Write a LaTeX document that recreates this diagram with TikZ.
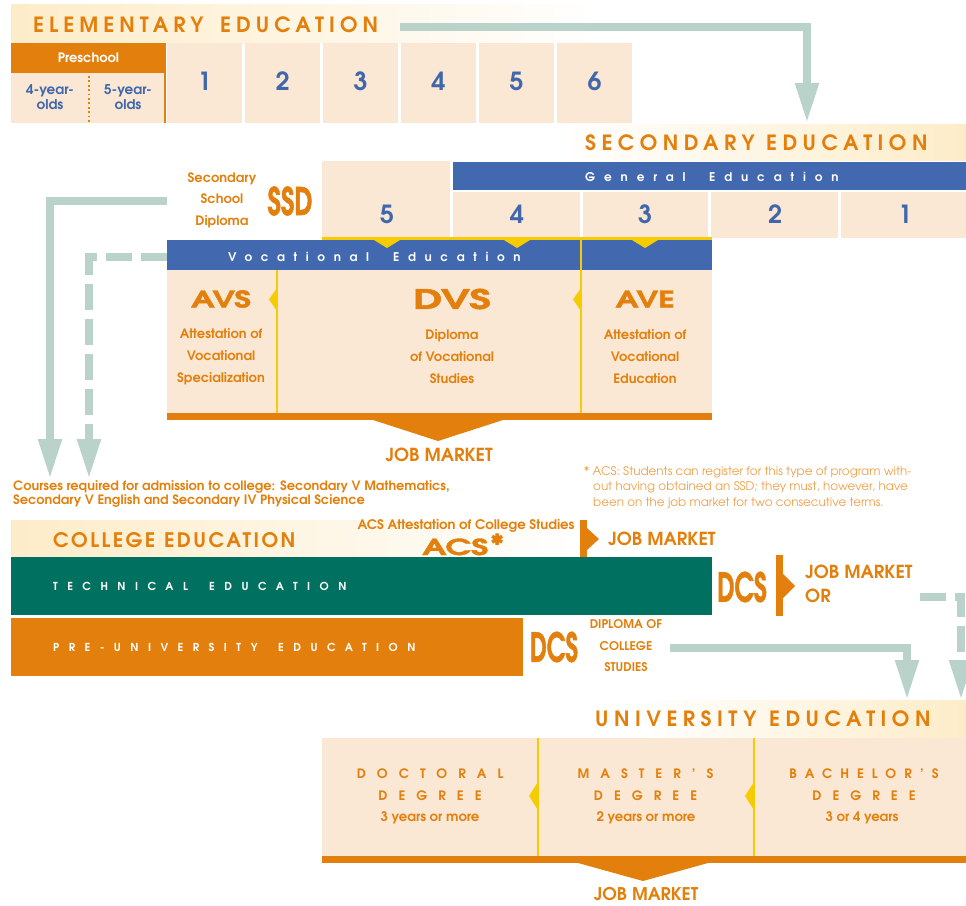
\documentclass[tikz,border=0pt]{standalone}
\usepackage{fontspec}
\usepackage{graphicx}
\setmainfont{texgyreadventor}[Extension=.otf,UprightFont=*-regular,BoldFont=*-bold,ItalicFont=*-italic,BoldItalicFont=*-bolditalic]
\newfontfamily\heavyf{texgyreadventor}[Extension=.otf,UprightFont=*-bold,FakeBold=1.6]
\usetikzlibrary{arrows.meta,calc}
\definecolor{org}{RGB}{227,128,13}
\definecolor{peach}{RGB}{250,231,212}
\definecolor{bandblue}{RGB}{66,105,175}
\definecolor{nblue}{RGB}{64,102,172}
\definecolor{tgreen}{RGB}{0,113,96}
\definecolor{agrey}{RGB}{186,211,202}
\definecolor{yel}{RGB}{246,203,0}
\definecolor{lyel}{RGB}{253,236,200}
\definecolor{lorg}{RGB}{240,160,75}
\newcommand\fs[2]{\fontsize{#1}{#2}\selectfont}
\newcommand\trk[1]{\addfontfeature{LetterSpace=#1}}
\begin{document}
\begin{tikzpicture}[x=1pt,y=-1pt,
 box/.style={anchor=north west,inner sep=0pt,outer sep=0pt,draw=none},
 conn/.style={draw=agrey,line width=8pt,-{Triangle[width=22pt,length=40pt]}},
 dconn/.style={conn,dash pattern=on 26pt off 9pt},
 hdr/.style={inner sep=0pt,anchor=west,text=org,font=\fs{21}{21}\bfseries\trk{24}},
 num/.style={text=nblue,font=\fs{25}{25}\bfseries,inner sep=0pt},
 otxt/.style={text=org,align=center,font=\fs{13}{21.5}\bfseries,inner sep=0pt},
 bandtxt/.style={text=white,inner sep=0pt,anchor=west,font=\fs{12}{12}\bfseries\trk{74}},
 captxt/.style={text=white,inner sep=0pt,anchor=west,font=\fs{11}{11}\bfseries\trk{86}},
 job/.style={text=org,font=\fs{18}{18}\bfseries,inner sep=0pt},
 degtxt/.style={text=org,align=center,font=\fs{13}{22}\bfseries\trk{85},inner sep=0pt},
 yrtxt/.style={text=org,font=\fs{13.2}{13}\bfseries,inner sep=0pt},
 heavy/.style={text=org,font=\fs{23}{23}\heavyf,inner sep=0pt},
 cond/.style={text=org,font=\fs{40}{40}\heavyf,inner sep=0pt},
]
\useasboundingbox (0,0) rectangle (966,905);

% ---------------- Elementary
\node[box,minimum width=589,minimum height=39,left color=lyel,right color=white] (elband) at (11,4) {};
\node[hdr] (elem1) at (33,25) {ELEMENTARY};
\node[hdr] (elem2) at (220,25) {EDUCATION};
\node[box,fill=org,minimum width=155,minimum height=30,text=white,font=\fs{13}{13}\bfseries] (pre) at (11,43) {Preschool};
\node[box,fill=peach,minimum width=155,minimum height=50] (preb) at (11,73) {};
\draw[org,line width=2pt] (165,43) -- (165,123);
\draw[org,line width=1.8pt,dash pattern=on 1.8pt off 2.6pt] (89,76) -- (89,123);
\node[text=nblue,align=center,font=\fs{13.5}{14.5}\bfseries,inner sep=0pt] (y4) at (50,97) {4-year-\\olds};
\node[text=nblue,align=center,font=\fs{13.5}{14.5}\bfseries,inner sep=0pt] (y5) at (128,97) {5-year-\\olds};
\foreach \i in {1,...,6} {
  \node[box,fill=peach,minimum width=75,minimum height=80] (g\i) at ({167+78*(\i-1)},43) {};
  \node[num] (n\i) at ($(g\i.center)+(0,-2)$) {\i};
}

% ---------------- Secondary
\node[box,minimum width=406,minimum height=36,left color=white,right color=lyel] (secband) at (560,124) {};
\node[hdr,font=\fs{21}{21}\bfseries\trk{26}] (sec1) at (585,143) {SECONDARY};
\node[hdr,font=\fs{21}{21}\bfseries\trk{26}] (sec2) at (766,143) {EDUCATION};
\coordinate (ea) at (400,27);
\coordinate (eb) at (807,123);
\draw[conn] (ea) -| (eb);

\node[box,fill=peach,minimum width=128,minimum height=77] (s5) at (322,161) {};
\node[box,fill=bandblue,minimum width=513,minimum height=28] (gen) at (453,162) {};
\node[bandtxt] (gent1) at (585,177) {General};
\node[bandtxt] (gent2) at (709,177) {Education};
\node[box,fill=peach,minimum width=127,minimum height=46] (s4) at (453,192) {};
\node[box,fill=peach,minimum width=125,minimum height=46] (s3) at (583,192) {};
\node[box,fill=peach,minimum width=127,minimum height=46] (s2) at (711,192) {};
\node[box,fill=peach,minimum width=125,minimum height=46] (s1) at (841,192) {};
\node[num] (m5) at (387,214) {5};
\node[num] (m4) at (517,214) {4};
\node[num] (m3) at (645,214) {3};
\node[num] (m2) at (775,214) {2};
\node[num] (m1) at (905,214) {1};

\node[otxt] (ssdt) at (222,200) {Secondary\\School\\Diploma};
\node[cond,font=\fs{38}{38}\heavyf] (ssd) at (290,201) {\scalebox{0.68}[1]{SSD}};

% ---------------- Vocational
\node[box,fill=bandblue,minimum width=545,minimum height=30] (voc) at (167,240) {};
\node[bandtxt,font=\fs{12}{12}\bfseries\trk{72}] (voct1) at (228,257) {Vocational};
\node[bandtxt,font=\fs{12}{12}\bfseries\trk{72}] (voct2) at (393,257) {Education};
\node[box,fill=peach,minimum width=545,minimum height=144] (vocb) at (167,270) {};
\fill[yel] (322,236.5) rectangle (712,240);
\foreach \x in {387,517,645} { \fill[yel] (\x-13,240) -- (\x+13,240) -- (\x,248) -- cycle; }
\draw[yel,line width=2pt] (277,270) -- (277,414);
\draw[yel,line width=2pt] (581,237) -- (581,414);
\fill[yel] (277,288) -- (277,311) -- (269,299.5) -- cycle;
\fill[yel] (581,288) -- (581,311) -- (573,299.5) -- cycle;
\fill[org] (167,413) rectangle (712,420);
\fill[org] (373,420) -- (503,420) -- (438,441) -- cycle;
\node[heavy] (avs) at (221,299) {\scalebox{1.4}[1]{AVS}};
\node[heavy,font=\fs{27}{27}\heavyf] (dvs) at (452,299) {\scalebox{1.55}[1]{DVS}};
\node[heavy] (ave) at (645,299) {\scalebox{1.36}[1]{AVE}};
\node[otxt,font=\fs{13}{22}\bfseries] (avsd) at (221,357) {Attestation of\\Vocational\\Specialization};
\node[otxt,font=\fs{13}{22}\bfseries] (dvsd) at (452,357) {Diploma\\of Vocational\\Studies};
\node[otxt,font=\fs{13}{22}\bfseries] (aved) at (645,357) {Attestation of\\Vocational\\Education};
\node[job] (jm1) at (439,455) {JOB MARKET};

% ---------------- Left arrows
\coordinate (la) at (167,201);
\coordinate (lae) at (50,479);
\draw[conn] (la) -| (lae);
\coordinate (lb) at (167,257);
\coordinate (lbe) at (89,479);
\draw[dconn] (lb) -| (lbe);
\node[anchor=north west,text=org,align=left,font=\fs{12.9}{14.5}\bfseries,inner sep=0pt] (courses) at (13,480)
 {Courses required for admission to college: Secondary V Mathematics,\\Secondary V English and Secondary IV Physical Science};

\node[anchor=north west,text=lorg,align=left,font=\fs{11.9}{15.5},inner sep=0pt] (note) at (584,466)
 {* ACS: Students can register for this type of program with-\\\hspace*{9pt}out having obtained an SSD; they must, however, have\\\hspace*{9pt}been on the job market for two consecutive terms.};

% ---------------- College
\node[box,minimum width=570,minimum height=37,left color=lyel,right color=white] (colband) at (11,520) {};
\node[hdr,font=\fs{20}{20}\bfseries\trk{12}] (col1) at (53,540) {COLLEGE};
\node[hdr,font=\fs{20}{20}\bfseries\trk{12}] (col2) at (164,540) {EDUCATION};
\node[text=org,font=\fs{13.2}{13}\bfseries,inner sep=0pt] (acsl) at (466,526) {ACS Attestation of College Studies};
\node[heavy,font=\fs{22}{22}\heavyf,anchor=base west] (acs) at (422,555) {\scalebox{1.5}[1]{ACS}\hspace{2pt}\raisebox{1pt}{\normalfont\bfseries\fs{28}{28}*}};
\fill[org] (580,520) rectangle (587,557);
\fill[org] (587,528) -- (599,539) -- (587,550) -- cycle;
\node[job,anchor=west] (jm2) at (608,539) {JOB MARKET};

\node[box,fill=tgreen,minimum width=701,minimum height=58] (tech) at (11,557) {};
\node[captxt] (techt1) at (53,586) {TECHNICAL};
\node[captxt] (techt2) at (209,586) {EDUCATION};
\node[box,fill=org,minimum width=512,minimum height=58] (preu) at (11,618) {};
\node[captxt] (preut1) at (53,647) {PRE-UNIVERSITY};
\node[captxt] (preut2) at (278,647) {EDUCATION};

\node[cond] (dcs1) at (742,587) {\scalebox{0.62}[1]{DCS}};
\fill[org] (776,555) rectangle (783,616);
\fill[org] (783,574) -- (795,586) -- (783,598) -- cycle;
\node[job,anchor=west,align=left,font=\fs{18}{24}\bfseries] (jm3) at (805,584) {JOB MARKET\\OR};
\node[cond] (dcs2) at (554,647) {\scalebox{0.6}[1]{DCS}};
\node[otxt,font=\fs{12}{21.5}\bfseries] (dip) at (626,646) {DIPLOMA OF\\COLLEGE\\STUDIES};

% ---------------- University
\node[box,minimum width=326,minimum height=38,left color=white,right color=lyel] (uniband) at (640,700) {};
\coordinate (pa) at (670,648);
\coordinate (pae) at (907,700);
\draw[conn] (pa) -| (pae);
\coordinate (pb) at (920,597);
\coordinate (pbe) at (961,700);
\draw[dconn] (pb) -| (pbe);
\node[hdr,font=\fs{21}{21}\bfseries\trk{26}] (uni1) at (595,719) {UNIVERSITY};
\node[hdr,font=\fs{21}{21}\bfseries\trk{26}] (uni2) at (769,719) {EDUCATION};
\node[box,fill=peach,minimum width=644,minimum height=119] (unib) at (322,738) {};
\draw[yel,line width=2pt] (538,738) -- (538,857);
\draw[yel,line width=2pt] (754,738) -- (754,857);
\fill[yel] (538,782) -- (538,810) -- (529,796) -- cycle;
\fill[yel] (754,782) -- (754,810) -- (745,796) -- cycle;
\fill[org] (322,856) rectangle (966,863);
\fill[org] (578,863) -- (708,863) -- (643,881) -- cycle;
\node[job,font=\fs{17.5}{17.5}\bfseries] (jm4) at (646,894) {JOB MARKET};
\node[degtxt] (doc) at (430,785) {DOCTORAL\\DEGREE};
\node[yrtxt] (docy) at (430,818) {3 years or more};
\node[degtxt] (mas) at (645.5,785) {MASTER'S\\DEGREE};
\node[yrtxt] (masy) at (646,818) {2 years or more};
\node[degtxt] (bac) at (864,785) {{\addfontfeature{LetterSpace=62}BACHELOR'S}\\DEGREE};
\node[yrtxt] (bacy) at (862,818) {3 or 4 years};
\end{tikzpicture}
\end{document}
